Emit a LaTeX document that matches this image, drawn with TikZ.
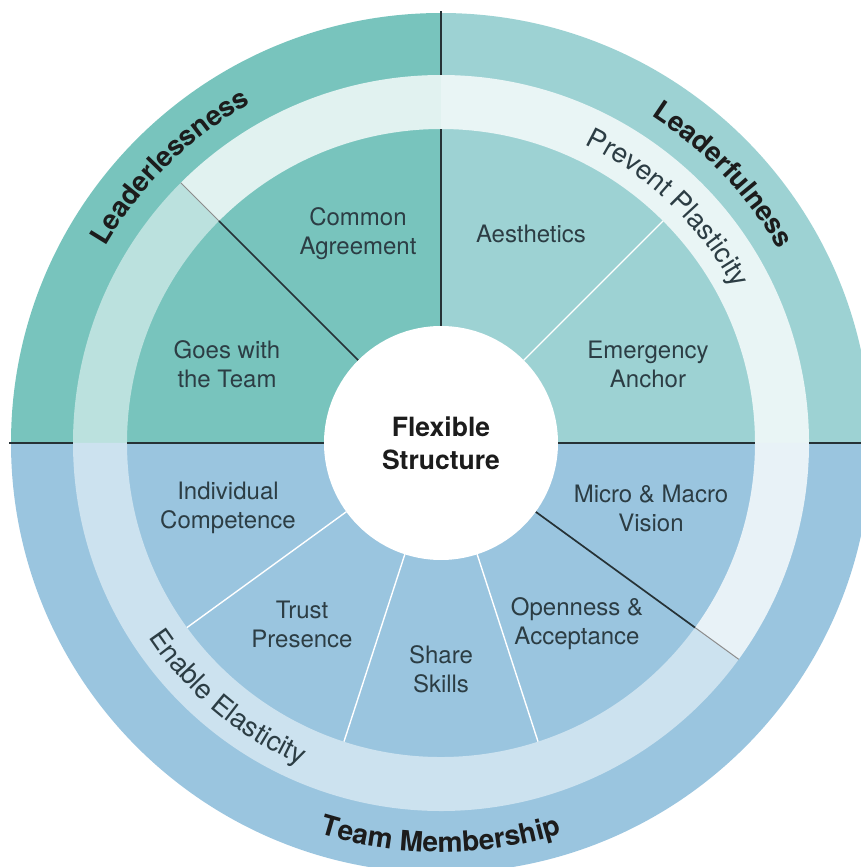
\documentclass[tikz,border=0pt]{standalone}
\usepackage{fontspec}
\setmainfont{TeX Gyre Heros}
\usetikzlibrary{decorations.text}

\definecolor{leadless}{HTML}{78C4BD}
\definecolor{leadful}{HTML}{9DD2D3}
\definecolor{member}{HTML}{9AC5DF}
\definecolor{labelink}{HTML}{2C3D44}
\definecolor{titleink}{HTML}{1C1C1C}
\definecolor{divider}{HTML}{263236}

\begin{document}
\begin{tikzpicture}[
  x=1pt, y=1pt,
  label/.style={font=\fontsize{24}{29}\selectfont, text=labelink, align=center, inner sep=0pt},
  core/.style={circle, fill=white, minimum size=234pt, inner sep=0pt, font=\fontsize{26.5}{33}\selectfont\bfseries, text=titleink, align=center},
  darkline/.style={draw=divider, line width=1.7pt},
  whiteline/.style={draw=white, line width=1.4pt},
  ringline/.style={draw=black!45, line width=1pt},
  arctext/.style={decorate, decoration={text along path, text align=center, text color=titleink}}
]
\useasboundingbox (-441,-424) rectangle (420,443);

% Quadrants
\fill[leadless] (0,0) -- (90:430) arc[start angle=90, end angle=180, radius=430] -- cycle;
\fill[leadful] (0,0) -- (0:430) arc[start angle=0, end angle=90, radius=430] -- cycle;
\fill[member] (0,0) -- (180:430) arc[start angle=180, end angle=360, radius=430] -- cycle;

% Ring
\fill[white, opacity=0.5] (135:368) arc[start angle=135, end angle=324, radius=368]
  -- (324:314) arc[start angle=324, end angle=135, radius=314] -- cycle;
\fill[white, opacity=0.78] (-36:368) arc[start angle=-36, end angle=135, radius=368]
  -- (135:314) arc[start angle=135, end angle=-36, radius=314] -- cycle;

% Dividers
\foreach \a in {45,216,252,288}
  \draw[whiteline] (\a:117) -- (\a:314);
\foreach \a in {0,90,180}
  \draw[darkline] (\a:117) -- (\a:314) (\a:368) -- (\a:432);
\foreach \a in {135,324} {
  \draw[darkline] (\a:117) -- (\a:314);
  \draw[ringline] (\a:314) -- (\a:368);
}

% Centre
\node[core] (core) at (0,0) {Flexible\\Structure};

% Sector labels
\node[label] (commonagr) at (-83,209) {Common\\Agreement};
\node[label] (goeswith) at (-214,79) {Goes with\\the Team};
\node[label] (aesth) at (90,209) {Aesthetics};
\node[label] (emergency) at (207,79) {Emergency\\Anchor};
\node[label] (indiv) at (-213,-65) {Individual\\Competence};
\node[label] (trust) at (-139,-181) {Trust\\Presence};
\node[label] (share) at (0,-226) {Share\\Skills};
\node[label] (openness) at (136,-181) {Openness \&\\Acceptance};
\node[label] (microvision) at (210,-65) {Micro \& Macro\\Vision};

% Arc titles
\path[arctext, decoration={text={|\fontsize{27.5}{27.5}\selectfont\bfseries|Leaderlessness}}]
  (175:389) arc[start angle=175, end angle=94, radius=389];
\path[arctext, decoration={text={|\fontsize{27.5}{27.5}\selectfont\bfseries|Leaderfulness}}]
  (84:389) arc[start angle=84, end angle=3, radius=389];
\path[arctext, decoration={text={|\fontsize{28}{28}\selectfont\bfseries|Team Membership}}]
  (225:409) arc[start angle=225, end angle=315, radius=409];
\path[arctext, decoration={text={|\fontsize{27.5}{27.5}\selectfont|Prevent Plasticity}, text color=labelink}]
  (90:331) arc[start angle=90, end angle=2, radius=331];
\path[arctext, decoration={text={|\fontsize{27.5}{27.5}\selectfont|Enable Elasticity}, text color=labelink}]
  (185:351) arc[start angle=185, end angle=275, radius=351];
\end{tikzpicture}
\end{document}
